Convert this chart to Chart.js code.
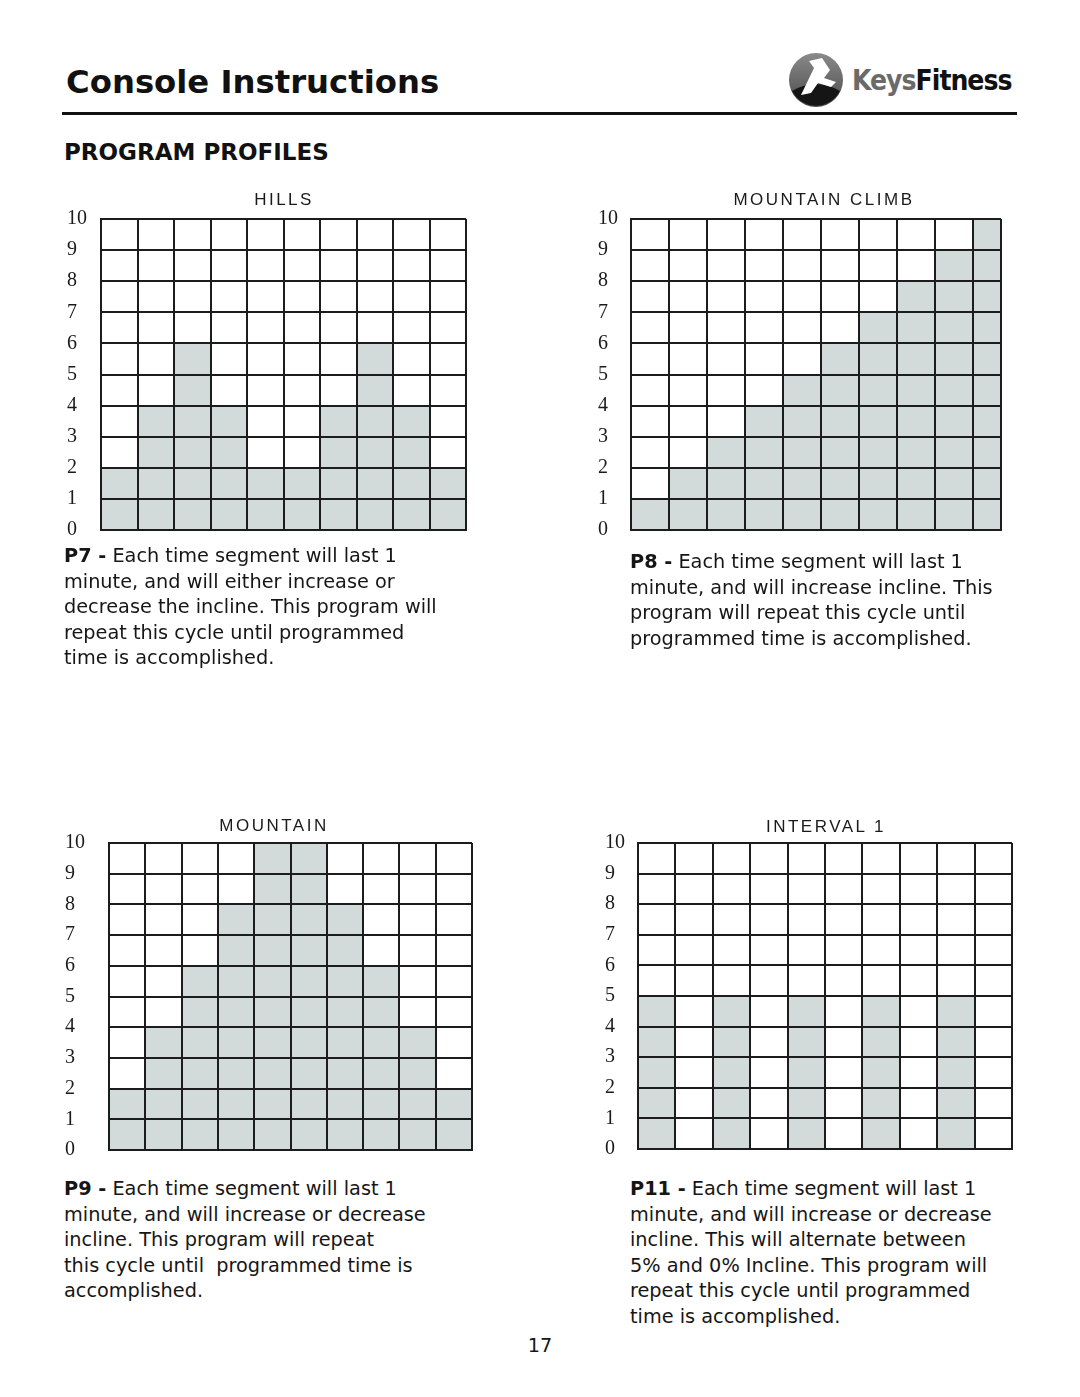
<!DOCTYPE html>
<html>
<head>
<meta charset="utf-8">
<script src="https://cdn.jsdelivr.net/npm/chart.js@4.4.1/dist/chart.umd.min.js"></script>
<style>
  html, body { margin: 0; padding: 0; background: #fff; }
  body { width: 1080px; height: 1397px; position: relative; overflow: hidden; font-family: "DejaVu Sans", Verdana, sans-serif; color: #111; }
  .abs { position: absolute; }
  .pageTitle { left: 66px; top: 62px; font-size: 32.3px; line-height: 40px; font-weight: bold; white-space: nowrap; }
  .rule { left: 62px; top: 112px; width: 955px; height: 3px; background: #111; }
  .section { left: 64px; top: 137px; font-size: 23px; line-height: 30px; font-weight: bold; white-space: nowrap; }
  .chartTitle { width: 300px; text-align: center; font-family: "Liberation Sans", Arial, sans-serif; font-size: 17px; line-height: 20px; letter-spacing: 2.5px; color: #1a1a1a; z-index: 2; }
  .desc { font-size: 19.3px; line-height: 25.5px; white-space: nowrap; color: #161616; }
  .desc b { font-weight: bold; }
  canvas { position: absolute; }
  .logoText { left: 852px; top: 64px; font-family: "DejaVu Sans", sans-serif; font-stretch: condensed; font-weight: bold; font-size: 28px; line-height: 34px; letter-spacing: -1px; white-space: nowrap; }
</style>
</head>
<body>
<div class="abs pageTitle">Console Instructions</div>
<div class="abs rule"></div>
<svg class="abs" style="left:789px; top:53px" width="54" height="54" viewBox="0 0 54 54">
  <defs>
    <linearGradient id="lg" x1="0" y1="0" x2="0" y2="1">
      <stop offset="0" stop-color="#8a8a8a"/>
      <stop offset="1" stop-color="#4a4a4a"/>
    </linearGradient>
  </defs>
  <circle cx="27" cy="27" r="27" fill="url(#lg)"/>
  <path d="M3,38 Q27,24 51,38 A27,27 0 0 1 3,38 Z" fill="#151515"/>
  <path d="M12,42 L25,15 L20,8 L33,5 L41,17 L35,25 L47,29 L42,34 L29,30 L22,40 Z" fill="#fff"/>
</svg>
<div class="abs logoText"><span style="color:#6a6a6a">Keys</span><span style="color:#111">Fitness</span></div>
<div class="abs section">PROGRAM PROFILES</div>

<div class="abs chartTitle" style="left:134px; top:190px">HILLS</div>
<div class="abs chartTitle" style="left:674px; top:190px">MOUNTAIN CLIMB</div>
<div class="abs chartTitle" style="left:124px; top:816px">MOUNTAIN</div>
<div class="abs chartTitle" style="left:676px; top:817px">INTERVAL 1</div>

<canvas id="hillsChart" width="403" height="363" style="left:67px; top:193px"></canvas>
<canvas id="climbChart" width="407" height="363" style="left:598px; top:193px"></canvas>
<canvas id="mountainChart" width="411" height="359" style="left:65px; top:817px"></canvas>
<canvas id="intervalChart" width="411" height="358" style="left:605px; top:817px"></canvas>

<div class="abs desc" style="left:64px; top:543px"><b>P7 -</b> Each time segment will last 1<br>minute, and will either increase or<br>decrease the incline. This program will<br>repeat this cycle until programmed<br>time is accomplished.</div>
<div class="abs desc" style="left:630px; top:549px"><b>P8 -</b> Each time segment will last 1<br>minute, and will increase incline. This<br>program will repeat this cycle until<br>programmed time is accomplished.</div>
<div class="abs desc" style="left:64px; top:1176px"><b>P9 -</b> Each time segment will last 1<br>minute, and will increase or decrease<br>incline. This program will repeat<br>this cycle until&nbsp; programmed time is<br>accomplished.</div>
<div class="abs desc" style="left:630px; top:1176px"><b>P11 -</b> Each time segment will last 1<br>minute, and will increase or decrease<br>incline. This will alternate between<br>5% and 0% Incline. This program will<br>repeat this cycle until programmed<br>time is accomplished.</div>
<div class="abs desc" style="left:440px; width:200px; text-align:center; top:1333px">17</div>

<script>
// time segments (minutes) and incline levels
const segments = [1, 2, 3, 4, 5, 6, 7, 8, 9, 10];
const inclineTicks = [0, 1, 2, 3, 4, 5, 6, 7, 8, 9, 10];

const hillsValues = [2, 4, 6, 4, 2, 2, 4, 6, 4, 2];
const climbValues = [1, 2, 3, 4, 5, 6, 7, 8, 9, 10];
const mountainValues = [2, 4, 6, 8, 10, 10, 8, 6, 4, 2];
const intervalValues = [5, 0, 5, 0, 5, 0, 5, 0, 5, 0];

const color = {
  Fill: "#d3dbda",
  Line: "#1c1c1c",
  Text: "#1a1a1a",
};

function makeProfileChart(id, values, lastColumn, tickPad) {
  const xMax = segments.length - 1 + lastColumn;
  new Chart(document.getElementById(id), {
    type: "bar",
    data: {
      datasets: [
        {
          data: segments.map((s, i) => ({x: s - 0.5, y: values[i]})),
          backgroundColor: color.Fill,
          borderWidth: 0,
          barThickness: "flex",
          barPercentage: 1,
          categoryPercentage: 1,
          clip: 0,
        },
      ],
    },
    options: {
      responsive: false,
      animation: false,
      layout: {padding: {top: 26, bottom: 26, left: 0, right: 4}},
      plugins: {
        legend: {display: false},
        tooltip: {enabled: false},
      },
      scales: {
        x: {
          type: "linear",
          min: 0,
          max: xMax,
          offset: false,
          afterBuildTicks: (axis) => {
            axis.ticks = segments.map(s => ({value: s - 1})).concat([{value: xMax}]);
          },
          ticks: {display: false},
          // grid sits on top of the shaded bars
          grid: {color: color.Line, lineWidth: 2, drawTicks: false, offset: false, z: 1},
          border: {color: color.Line, width: 2, z: 1},
        },
        y: {
          min: 0,
          max: 10,
          afterBuildTicks: (axis) => {
            axis.ticks = inclineTicks.map(v => ({value: v}));
          },
          ticks: {
            padding: tickPad,
            crossAlign: "far",
            color: color.Text,
            font: {family: "Liberation Serif", size: 20},
          },
          grid: {color: color.Line, lineWidth: 2, drawTicks: false, z: 1},
          border: {color: color.Line, width: 2, z: 1},
        },
      },
    },
  });
}

makeProfileChart("hillsChart", hillsValues, 1, 7);
makeProfileChart("climbChart", climbValues, 0.74, 6.5);
makeProfileChart("mountainChart", mountainValues, 1, 12);
makeProfileChart("intervalChart", intervalValues, 1, 6.5);
</script>
</body>
</html>
